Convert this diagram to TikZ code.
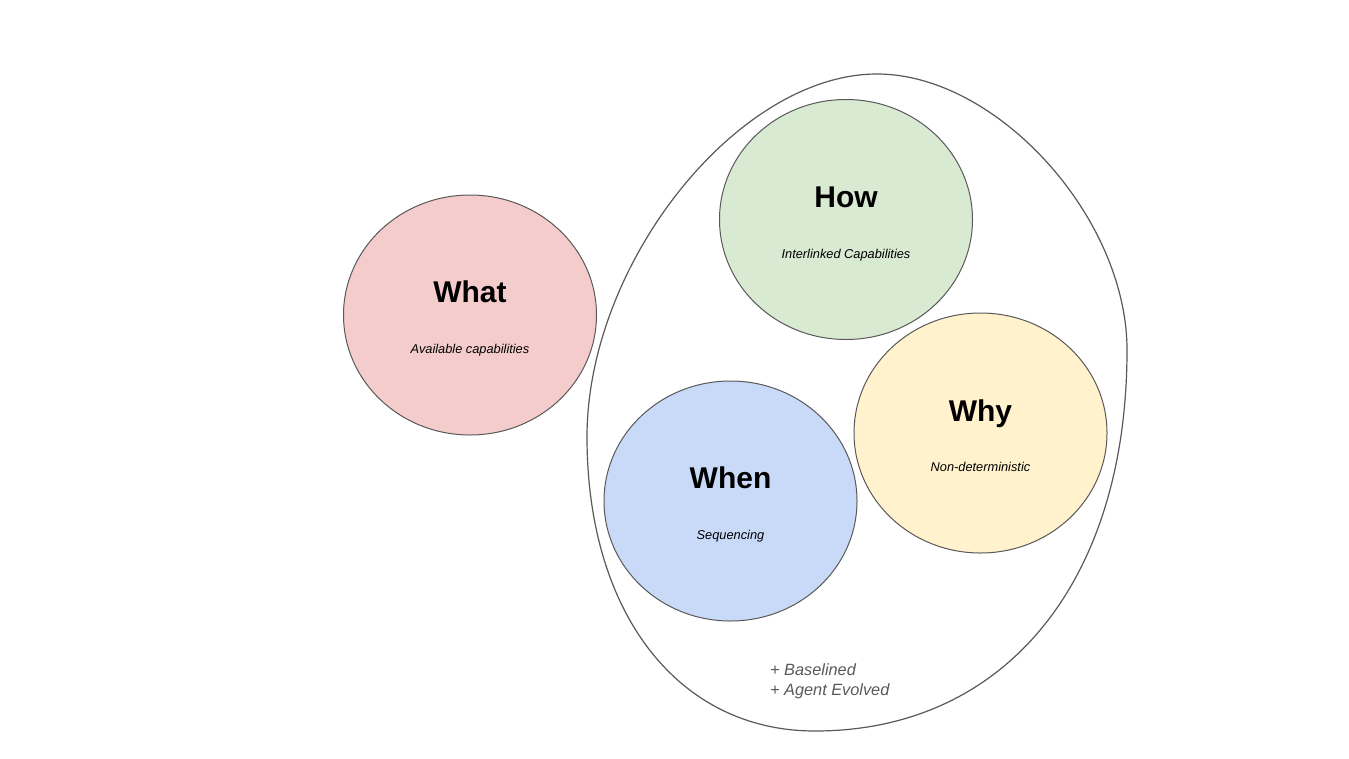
\documentclass[tikz,border=0pt]{standalone}
\usepackage{fontspec}
\setmainfont{Liberation Sans}
\usetikzlibrary{shapes.geometric}
\definecolor{cpink}{HTML}{F4CCCC}
\definecolor{cgreen}{HTML}{D9EAD3}
\definecolor{cyellow}{HTML}{FFF2CC}
\definecolor{cblue}{HTML}{C9DAF8}
\definecolor{cline}{HTML}{595959}
\definecolor{ctext}{HTML}{595959}
\tikzset{
  bubble/.style={ellipse, draw=cline, line width=1pt, minimum width=253pt, minimum height=240pt, inner sep=0pt},
  titletext/.style={anchor=base, font=\fontsize{30}{36}\selectfont\bfseries, text=black, inner sep=0pt},
  subtext/.style={anchor=base, font=\fontsize{12.8}{15}\selectfont\itshape, text=black, inner sep=0pt},
  outer/.style={draw=cline, line width=1.2pt},
  notetext/.style={anchor=base west, font=\fontsize{16.3}{20}\selectfont\itshape, text=ctext, inner sep=0pt, align=left}
}
\begin{document}
\begin{tikzpicture}[x=1pt,y=-1pt]
\useasboundingbox[fill=white] (0,0) rectangle (1349,758);
% outer enclosing shape
\coordinate (oT) at (877,74);
\coordinate (oR) at (1127,350);
\coordinate (oB) at (815,731);
\coordinate (oL) at (587,437);
\draw[outer] (oT) .. controls (997,74) and (1127,217.5) .. (oR)
  .. controls (1127,582) and (1005,731) .. (oB)
  .. controls (678,731) and (587,613) .. (oL)
  .. controls (587,263) and (738,74) .. (oT) -- cycle;
% bubbles
\node[bubble, fill=cpink]   (what) at (470,315) {};
\node[bubble, fill=cgreen]  (how)  at (846,219.5) {};
\node[bubble, fill=cyellow] (why)  at (980.5,433) {};
\node[bubble, fill=cblue]   (when) at (730.5,501) {};
% texts
\node[titletext] (whatT) at (470,302) {What};
\node[subtext]   (whatS) at (470,353) {Available capabilities};
\node[titletext] (howT)  at (846,207) {How};
\node[subtext]   (howS)  at (846,258) {Interlinked Capabilities};
\node[titletext] (whyT)  at (980.5,421) {Why};
\node[subtext]   (whyS)  at (980.5,471) {Non-deterministic};
\node[titletext] (whenT) at (730.5,488) {When};
\node[subtext]   (whenS) at (730.5,539) {Sequencing};
\node[notetext]  (note1) at (770,675) {+ Baselined};
\node[notetext]  (note2) at (770,695) {+ Agent Evolved};
\end{tikzpicture}
\end{document}
